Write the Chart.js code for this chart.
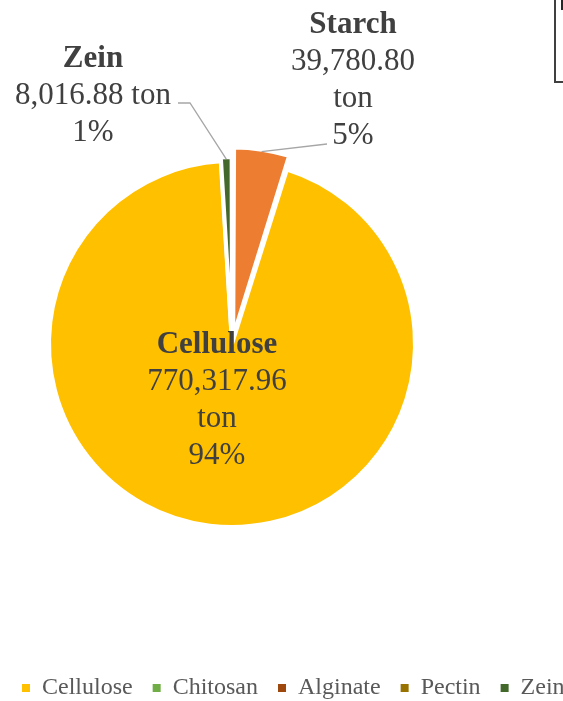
<!DOCTYPE html>
<html>
<head>
<meta charset="utf-8">
<script src="https://cdn.jsdelivr.net/npm/chart.js@4"></script>
<style>
  html, body { margin: 0; padding: 0; background: #fff; overflow: hidden; }
  #wrap { width: 563px; height: 701px; overflow: hidden; }
</style>
</head>
<body>
<div id="wrap"><canvas id="pieChart" width="800" height="710"></canvas></div>
<script>
// tonnage per material (pie order, clockwise from the rotation angle)
const categories = ["Cellulose", "Chitosan", "Alginate", "Pectin", "Zein", "Starch"];
const tonnage = [770317.96, 0, 0, 0, 8016.88, 39780.80];
const sliceColors = ["#FFC000", "#70AD47", "#9E480E", "#997300", "#43682B", "#ED7D31"];
const explode = [0, 0, 0, 0, 8, 32];

// where each data label sits (centre x, first baseline) and its leader line start
const labelSpots = {
  Cellulose: { x: 217, y: 353, joined: false },
  Starch: { x: 353, y: 33, joined: false, leader: [[327, 144]] },
  Zein: { x: 93, y: 67, joined: true, leader: [[178, 103], [190, 103]] }
};

const FONT = '"Liberation Serif", "Times New Roman", serif';

const sliceLabels = {
  id: "sliceLabels",
  afterDatasetsDraw(chart) {
    const ctx = chart.ctx;
    const meta = chart.getDatasetMeta(0);
    const data = chart.data.datasets[0].data;
    const total = data.reduce((a, b) => a + b, 0);

    ctx.save();
    meta.data.forEach((arc, i) => {
      const spot = labelSpots[categories[i]];
      if (!spot) return;

      const value = data[i];
      const num = value.toLocaleString("en-US", { minimumFractionDigits: 2, maximumFractionDigits: 2 });
      const pct = Math.round(value / total * 100) + "%";
      const lines = spot.joined ? [num + " ton", pct] : [num, "ton", pct];

      if (spot.leader) {
        const p = arc.getProps(["x", "y", "startAngle", "endAngle", "outerRadius"], true);
        const mid = (p.startAngle + p.endAngle) / 2;
        const shift = (arc.options.offset || 0) / 4;
        const fix = 1 - Math.sin(Math.min(Math.PI, p.endAngle - p.startAngle));
        const r = shift + p.outerRadius + shift * fix - arc.options.borderWidth / 2;
        ctx.strokeStyle = "#A6A6A6";
        ctx.lineWidth = 1.3;
        ctx.beginPath();
        ctx.moveTo(spot.leader[0][0], spot.leader[0][1]);
        spot.leader.slice(1).forEach(pt => ctx.lineTo(pt[0], pt[1]));
        ctx.lineTo(p.x + Math.cos(mid) * r, p.y + Math.sin(mid) * r);
        ctx.stroke();
      }

      ctx.fillStyle = "#404040";
      ctx.textAlign = "center";
      ctx.textBaseline = "alphabetic";
      ctx.font = "bold 31px " + FONT;
      ctx.fillText(categories[i], spot.x, spot.y);
      ctx.font = "31px " + FONT;
      lines.forEach((t, k) => ctx.fillText(t, spot.x, spot.y + (k + 1) * 37));
    });
    ctx.restore();
  }
};

// outline of the boxed element in the top right corner
const frameBox = {
  id: "frameBox",
  afterDraw(chart) {
    const ctx = chart.ctx;
    ctx.save();
    ctx.strokeStyle = "#404040";
    ctx.lineWidth = 2;
    ctx.strokeRect(555, -4, 300, 86);
    ctx.fillStyle = "#262626";
    ctx.fillRect(561, 0, 3, 10);
    ctx.restore();
  }
};

const defaultLabels = Chart.overrides.doughnut.plugins.legend.labels.generateLabels;

new Chart(document.getElementById("pieChart"), {
  type: "pie",
  data: {
    labels: categories,
    datasets: [{
      data: tonnage,
      backgroundColor: sliceColors,
      borderColor: "#ffffff",
      borderWidth: 4,
      offset: explode
    }]
  },
  options: {
    responsive: false,
    animation: false,
    rotation: 17.5,
    radius: 183,
    layout: { padding: { left: 2, top: 32, right: 0, bottom: 0 } },
    plugins: {
      legend: {
        position: "bottom",
        align: "start",
        labels: {
          boxWidth: 8,
          boxHeight: 8,
          padding: 20,
          color: "#595959",
          font: { family: FONT, size: 24 },
          generateLabels: chart => defaultLabels(chart).map(l => Object.assign(l, { lineWidth: 0 }))
        }
      },
      // empty right-hand spacer so the pie sits left of the full-width legend
      title: {
        display: true,
        position: "right",
        fullSize: false,
        text: "",
        padding: { top: 0, bottom: 328 },
        font: { size: 10, lineHeight: 1 }
      },
      tooltip: { enabled: false }
    }
  },
  plugins: [sliceLabels, frameBox]
});
</script>
</body>
</html>
